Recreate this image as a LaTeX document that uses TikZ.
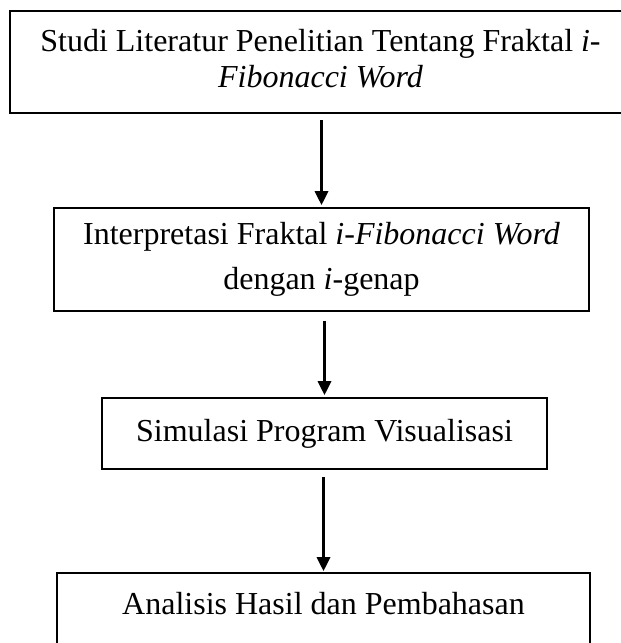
\documentclass[tikz,border=0pt]{standalone}
\usepackage{fontspec}
\setmainfont{Liberation Serif}
\usetikzlibrary{positioning,arrows.meta}

\begin{document}
\begin{tikzpicture}[x=0.5pt, y=-0.5pt,
        box/.style={draw, line width=0.8pt, align=center, inner sep=0pt, font=\fontsize{16}{18}\selectfont},
        panah/.style={line width=1.6pt, -{Triangle[width=6.5pt, length=7pt]}}]
            \useasboundingbox (0, 0) rectangle (621, 643);

            \node[box, minimum width=310.5pt, minimum height=51pt] (studi) at (320.5, 62)
                {Studi Literatur Penelitian Tentang Fraktal \textit{i-}\\\textit{Fibonacci Word}\rule[-4pt]{0pt}{0pt}};
            \node[box, minimum width=267.5pt, minimum height=51.5pt] (interp) at (321.5, 259.5)
                {Interpretasi Fraktal \textit{i-Fibonacci Word}\\[4.5pt]dengan \textit{i}-genap\rule[-3pt]{0pt}{0pt}};
            \node[box, minimum width=222.5pt, minimum height=35.5pt] (simul) at (324.5, 433.5)
                {Simulasi Program Visualisasi};
            \node[box, minimum width=266.5pt, text height=20.5pt, text depth=23pt] (analisis) at (323.5, 616.5)
                {Analisis Hasil dan Pembahasan};

            \draw[panah, shorten <=3pt, shorten >=1pt] (studi.south -| interp.north) -- (interp.north);
            \draw[panah, shorten <=4.5pt, shorten >=1pt] (interp.south -| simul.north) -- (simul.north);
            \draw[panah, shorten <=3.5pt, shorten >=0.5pt] (simul.south -| analisis.north) -- (analisis.north);
        \end{tikzpicture}
\end{document}
